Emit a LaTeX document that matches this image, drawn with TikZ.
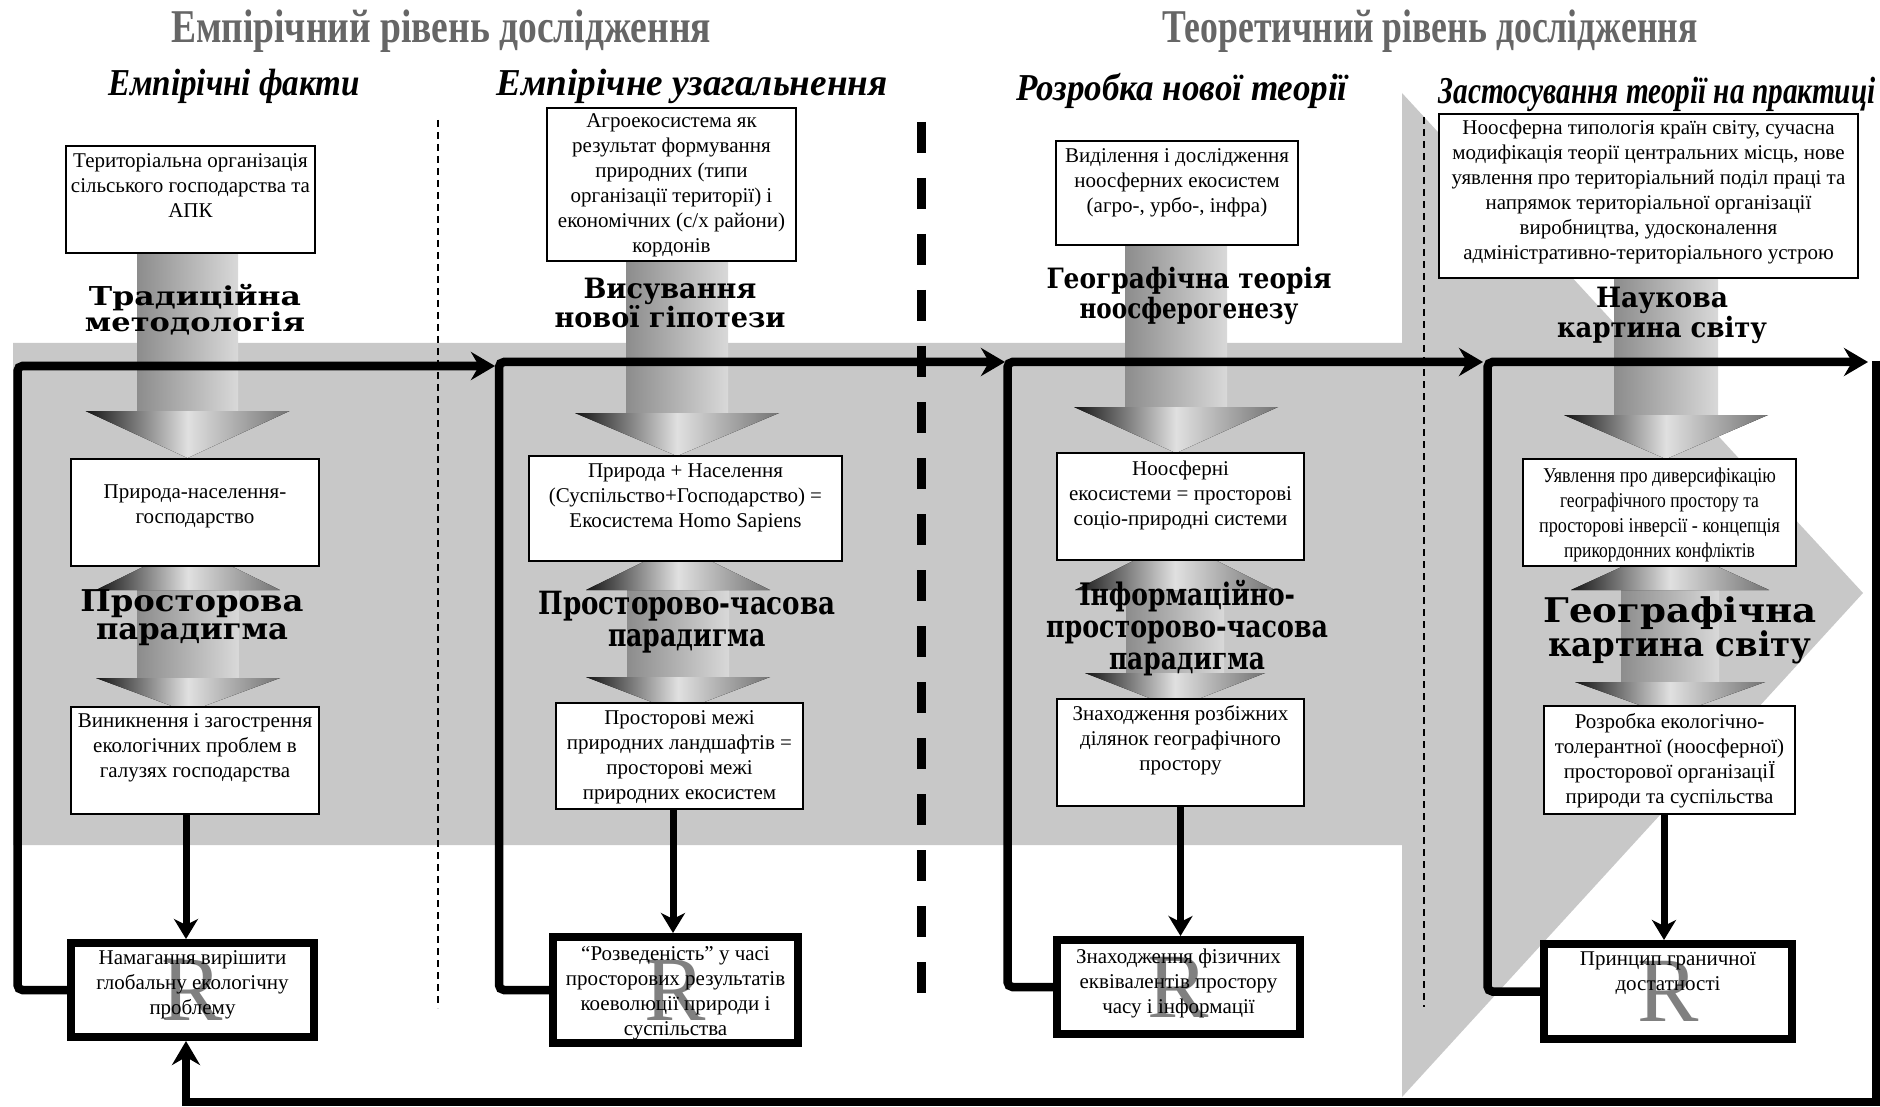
\documentclass[tikz,border=0pt]{standalone}
\usepackage{fontspec}
\setmainfont{Liberation Serif}
\newfontfamily\labfont{DejaVu Serif}
\usetikzlibrary{arrows.meta}
\newcommand\bxl[1]{\hbox to\hsize{\hss#1\hss}}
\newcommand\fl[2]{\bxl{\rule{0pt}{#1}#2}}
\newcommand\rz[2]{\resizebox{#1}{\height}{#2}}
\newcommand\sarrow[6]{%
  \fill[sshade] (#1-#2,#3) rectangle (#1+#2,#4+1);
  \fill[hshade] (#1+#5,#4) -- (#1,#6) -- (#1-#5,#4) -- cycle;}
\newcommand\darrow[8]{%
  \fill[sshade] (#1-#2,#4-1) rectangle (#1+#2,#6+1);
  \fill[hshade] (#1,#3) -- (#1+#5,#4) -- (#1-#5,#4) -- cycle;
  \fill[hshade] (#1+#7,#6) -- (#1,#8) -- (#1-#7,#6) -- cycle;}
\definecolor{bgc}{HTML}{C8C8C8}
\begin{document}
\begin{tikzpicture}[x=1pt,y=-1pt,
  sshade/.style={left color=black!45, right color=black!15},
  hshade/.style={left color=black!92, right color=black!55, middle color=black!12},
  bx/.style={draw, line width=1.8pt, fill=white, inner sep=0pt, font=\fontsize{21}{25}\selectfont},
  tbx/.style={bx, line width=8pt, path picture={\node[rlet] (#1) at (path picture bounding box.center) {R};}},
  rlet/.style={text=black!50, inner sep=0pt, font=\fontsize{92}{92}\selectfont},
  lab/.style={align=center, inner sep=0pt},
  ttl/.style={inner sep=0pt, text=black!60, font=\bfseries\fontsize{47}{50}\selectfont},
  sub/.style={inner sep=0pt, font=\bfseries\itshape\fontsize{38}{40}\selectfont},
  loopl/.style={line width=8.5pt, rounded corners=5pt, -{Stealth[length=24pt,width=28pt,inset=8pt]}},
  blk/.style={line width=7pt, -{Stealth[length=20pt,width=24pt,inset=6pt]}},
  thind/.style={line width=1.5pt, dash pattern=on 7pt off 5pt},
  thickd/.style={line width=9pt, dash pattern=on 31pt off 25pt}]
\useasboundingbox (0,0) rectangle (1880,1107);
% background band and chevron
\fill[bgc] (13,343) -- (1402,343) -- (1402,93) -- (1863,593) -- (1402,1097) -- (1402,845) -- (13,845) -- cycle;
% dividers
\draw[thind] (438,120) -- (438,1008);
\draw[thickd] (921,122) -- (921,995);
\draw[thind] (1424,117) -- (1424,1007);
% gradient arrows
\sarrow{187.5}{50.5}{253}{411}{102}{458}
\sarrow{677}{51}{261}{413}{102}{456}
\sarrow{1176}{51}{245}{407}{102}{453}
\sarrow{1666}{52}{278}{415}{102}{459}
\darrow{188}{50.5}{545}{590}{92}{678}{92}{712}
\darrow{678}{51}{545}{590}{92}{677}{92}{712}
\darrow{1175}{49}{540}{590}{100}{673}{90}{708}
\darrow{1670}{49}{545}{590}{99}{682}{95}{716}
% boxes
\node[bx] (b1a) at (190.5,199.5) {\parbox[c][107pt][t]{249pt}{\fl{22pt}{Територіальна організація}\bxl{сільського господарства та}\bxl{АПК}}};
\node[bx] (b1b) at (195,512.5) {\parbox[c][107pt][t]{248pt}{\fl{39pt}{Природа-населення-}\bxl{господарство}}};
\node[bx] (b1c) at (195,760.5) {\parbox[c][107pt][t]{248pt}{\fl{20pt}{Виникнення і загострення}\bxl{екологічних проблем в}\bxl{галузях господарства}}};
\node[tbx=r1] (b1d) at (192.5,990) {\parbox[c][94pt][t]{243pt}{\fl{21pt}{Намагання вирішити}\bxl{глобальну екологічну}\bxl{проблему}}};
\node[bx] (b2a) at (671.5,184.5) {\parbox[c][153pt][t]{249pt}{\fl{20pt}{Агроекосистема як}\bxl{результат формування}\bxl{природних (типи}\bxl{організації території) і}\bxl{економічних (с/х райони)}\bxl{кордонів}}};
\node[bx] (b2b) at (685.5,508.5) {\parbox[c][105pt][t]{313pt}{\fl{21pt}{Природа + Населення}\bxl{(Суспільство+Господарство) =}\bxl{Екосистема Homo Sapiens}}};
\node[bx] (b2c) at (679.5,756) {\parbox[c][106pt][t]{247pt}{\fl{21pt}{Просторові межі}\bxl{природних ландшафтів =}\bxl{просторові межі}\bxl{природних екосистем}}};
\node[tbx=r2] (b2d) at (675.5,990) {\parbox[c][106pt][t]{245pt}{\fl{23pt}{“Розведеність” у часі}\bxl{просторових результатів}\bxl{коеволюції природи і}\bxl{суспільства}}};
\node[bx] (b3a) at (1177,193) {\parbox[c][104pt][t]{242pt}{\fl{22pt}{Виділення і дослідження}\bxl{ноосферних екосистем}\bxl{(агро-, урбо-, інфра)}}};
\node[bx] (b3b) at (1180.5,506.5) {\parbox[c][107pt][t]{247pt}{\fl{22pt}{Ноосферні}\bxl{екосистеми = просторові}\bxl{соціо-природні системи}}};
\node[bx] (b3c) at (1180.5,752.5) {\parbox[c][107pt][t]{247pt}{\fl{21pt}{Знаходження розбіжних}\bxl{ділянок географічного}\bxl{простору}}};
\node[tbx=r3] (b3d) at (1178.5,987) {\parbox[c][94pt][t]{243pt}{\fl{23pt}{Знаходження фізичних}\bxl{еквівалентів простору}\bxl{часу і інформації}}};
\node[bx] (b4a) at (1648.5,196) {\parbox[c][164pt][t]{419pt}{\fl{21pt}{Ноосферна типологія країн світу, сучасна}\bxl{модифікація теорії центральних місць, нове}\bxl{уявлення про територіальний поділ праці та}\bxl{напрямок територіальної організації}\bxl{виробництва, удосконалення}\bxl{адміністративно-територіального устрою}}};
\node[bx] (b4b) at (1659.5,512.5) {\parbox[c][107pt][t]{273pt}{\fl{23pt}{\rz{233pt}{Уявлення про диверсифікацію}}\bxl{\rz{199pt}{географічного простору та}}\bxl{\rz{241pt}{просторові інверсії - концепція}}\bxl{\rz{191pt}{прикордонних конфліктів}}}};
\node[bx] (b4c) at (1669.5,760) {\parbox[c][108pt][t]{251pt}{\fl{22pt}{Розробка екологічно-}\bxl{толерантної (ноосферної)}\bxl{просторової організаціЇ}\bxl{природи та суспільства}}};
\node[tbx=r4] (b4d) at (1668,991.5) {\parbox[c][95pt][t]{248pt}{\fl{21pt}{Принцип граничної}\bxl{достатності}}};
% loops
\coordinate (l1a) at (17.5,366); \coordinate (l1b) at (495,366);
\coordinate (l2a) at (499,362); \coordinate (l2b) at (1005,362);
\coordinate (l3a) at (1007.5,362); \coordinate (l3b) at (1483,362);
\coordinate (l4a) at (1487.5,362); \coordinate (l4b) at (1868,362);
\coordinate (rt) at (1876,361); \coordinate (rb) at (1876,1102);
\draw[loopl] (b1d.west) -| (l1a) -- (l1b);
\draw[loopl] (b2d.west) -| (l2a) -- (l2b);
\draw[loopl] (b3d.west) -| (l3a) -- (l3b);
\draw[loopl] (b4d.west) -| (l4a) -- (l4b);
\draw[loopl, rounded corners=0pt] (rt) -- (rb) -| ([xshift=-6.5pt]b1d.south);
% black down arrows
\draw[blk] ([xshift=-9pt]b1c.south) -- ([xshift=-9pt]b1c.south |- b1d.north);
\draw[blk] ([xshift=-6.5pt]b2c.south) -- ([xshift=-6.5pt]b2c.south |- b2d.north);
\draw[blk] (b3c.south) -- (b3c.south |- b3d.north);
\draw[blk] ([xshift=-5.5pt]b4c.south) -- ([xshift=-5.5pt]b4c.south |- b4d.north);
% arrow labels
\node[lab, font=\labfont\bfseries\fontsize{26}{25}\selectfont] (L1) at (195,310) {\rz{212pt}{Традиційна}\\\rz{220pt}{методологія}};
\node[lab, font=\labfont\bfseries\fontsize{28}{26}\selectfont] (L2) at (670,303) {\rz{173pt}{Висування}\\\rz{231pt}{нової гіпотези}};
\node[lab, font=\labfont\bfseries\fontsize{28}{30}\selectfont] (L3) at (1189,296) {\rz{285pt}{Географічна теорія}\\\rz{219pt}{ноосферогенезу}};
\node[lab, font=\labfont\bfseries\fontsize{28}{30}\selectfont] (L4) at (1662,315) {\rz{132pt}{Наукова}\\\rz{210pt}{картина світу}};
\node[lab, font=\labfont\bfseries\fontsize{30}{28}\selectfont] (P1) at (192,618) {\rz{223pt}{Просторова}\\\rz{192pt}{парадигма}};
\node[lab, font=\labfont\bfseries\fontsize{32}{32}\selectfont] (P2) at (687,622) {\rz{297pt}{Просторово-часова}\\\rz{158pt}{парадигма}};
\node[lab, font=\labfont\bfseries\fontsize{31}{32}\selectfont] (P3) at (1187,628) {\rz{216pt}{Інформаційно-}\\\rz{282pt}{просторово-часова}\\\rz{156pt}{парадигма}};
\node[lab, font=\labfont\bfseries\fontsize{34}{31}\selectfont] (P4) at (1680,630) {\rz{273pt}{Географічна}\\\rz{263pt}{картина світу}};
% titles
\node[ttl, anchor=base] (t1) at (441,43) {\rz{540pt}{Емпірічний рівень дослідження}};
\node[ttl, anchor=base] (t2) at (1430,43) {\rz{535pt}{Теоретичний рівень дослідження}};
\node[sub, anchor=base] (s1) at (234,96) {\rz{252pt}{Емпірічні факти}};
\node[sub, anchor=base] (s2) at (692,96) {\rz{391pt}{Емпірічне узагальнення}};
\node[sub, anchor=base] (s3) at (1182,101) {\rz{331pt}{Розробка нової теорії}};
\node[sub, anchor=base] (s4) at (1657,104) {\rz{437pt}{Застосування теорії на практиці}};
\end{tikzpicture}
\end{document}
